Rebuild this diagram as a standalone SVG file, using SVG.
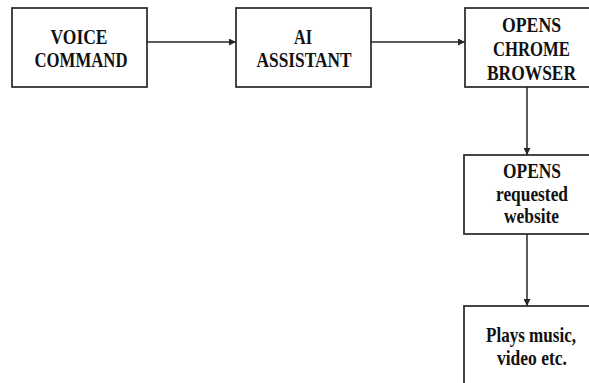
<svg xmlns="http://www.w3.org/2000/svg" width="589" height="383" viewBox="0 0 589 383">
<style>
.box{fill:#fff;stroke:#262626;stroke-width:1.7}
.t{font-family:"Liberation Serif","Times New Roman",serif;font-weight:bold;font-size:21px;fill:#111;text-anchor:middle}
.c{stroke:#262626;stroke-width:1.5;fill:none}
</style>
<defs>
<marker id="ah" viewBox="0 0 8 8" refX="8" refY="4" markerWidth="7" markerHeight="7" markerUnits="userSpaceOnUse" orient="auto">
<path d="M0,0 L8,4 L0,8 z" fill="#262626"/>
</marker>
</defs>
<rect width="589" height="383" fill="#fff"/>
<g id="connectors">
<line class="c" x1="147" y1="42" x2="236" y2="42" marker-end="url(#ah)"/>
<line class="c" x1="371" y1="42" x2="465" y2="42" marker-end="url(#ah)"/>
<line class="c" x1="527" y1="87" x2="527" y2="155" marker-end="url(#ah)"/>
<line class="c" x1="527" y1="234" x2="527" y2="306" marker-end="url(#ah)"/>
</g>
<g id="voice-command">
<rect class="box" x="12" y="8" width="135" height="79"/>
<text class="t" x="79" y="44" textLength="57" lengthAdjust="spacingAndGlyphs">VOICE</text>
<text class="t" x="81" y="67" textLength="93" lengthAdjust="spacingAndGlyphs">COMMAND</text>
</g>
<g id="ai-assistant">
<rect class="box" x="236" y="8" width="135" height="79"/>
<text class="t" x="303" y="44" textLength="18" lengthAdjust="spacingAndGlyphs">AI</text>
<text class="t" x="304" y="67" textLength="95" lengthAdjust="spacingAndGlyphs">ASSISTANT</text>
</g>
<g id="opens-chrome">
<rect class="box" x="465" y="8" width="134" height="79"/>
<text class="t" x="531.5" y="32" textLength="59" lengthAdjust="spacingAndGlyphs">OPENS</text>
<text class="t" x="531.5" y="56" textLength="77" lengthAdjust="spacingAndGlyphs">CHROME</text>
<text class="t" x="531.5" y="80" textLength="89" lengthAdjust="spacingAndGlyphs">BROWSER</text>
</g>
<g id="opens-website">
<rect class="box" x="464" y="155" width="135" height="79"/>
<text class="t" x="532" y="178" textLength="58" lengthAdjust="spacingAndGlyphs">OPENS</text>
<text class="t" x="532" y="201" textLength="72" lengthAdjust="spacingAndGlyphs">requested</text>
<text class="t" x="531.5" y="223" textLength="55" lengthAdjust="spacingAndGlyphs">website</text>
</g>
<g id="plays-music">
<rect class="box" x="464" y="306" width="135" height="90"/>
<text class="t" x="531" y="342" textLength="90" lengthAdjust="spacingAndGlyphs">Plays music,</text>
<text class="t" x="532" y="365" textLength="70" lengthAdjust="spacingAndGlyphs">video etc.</text>
</g>
</svg>
